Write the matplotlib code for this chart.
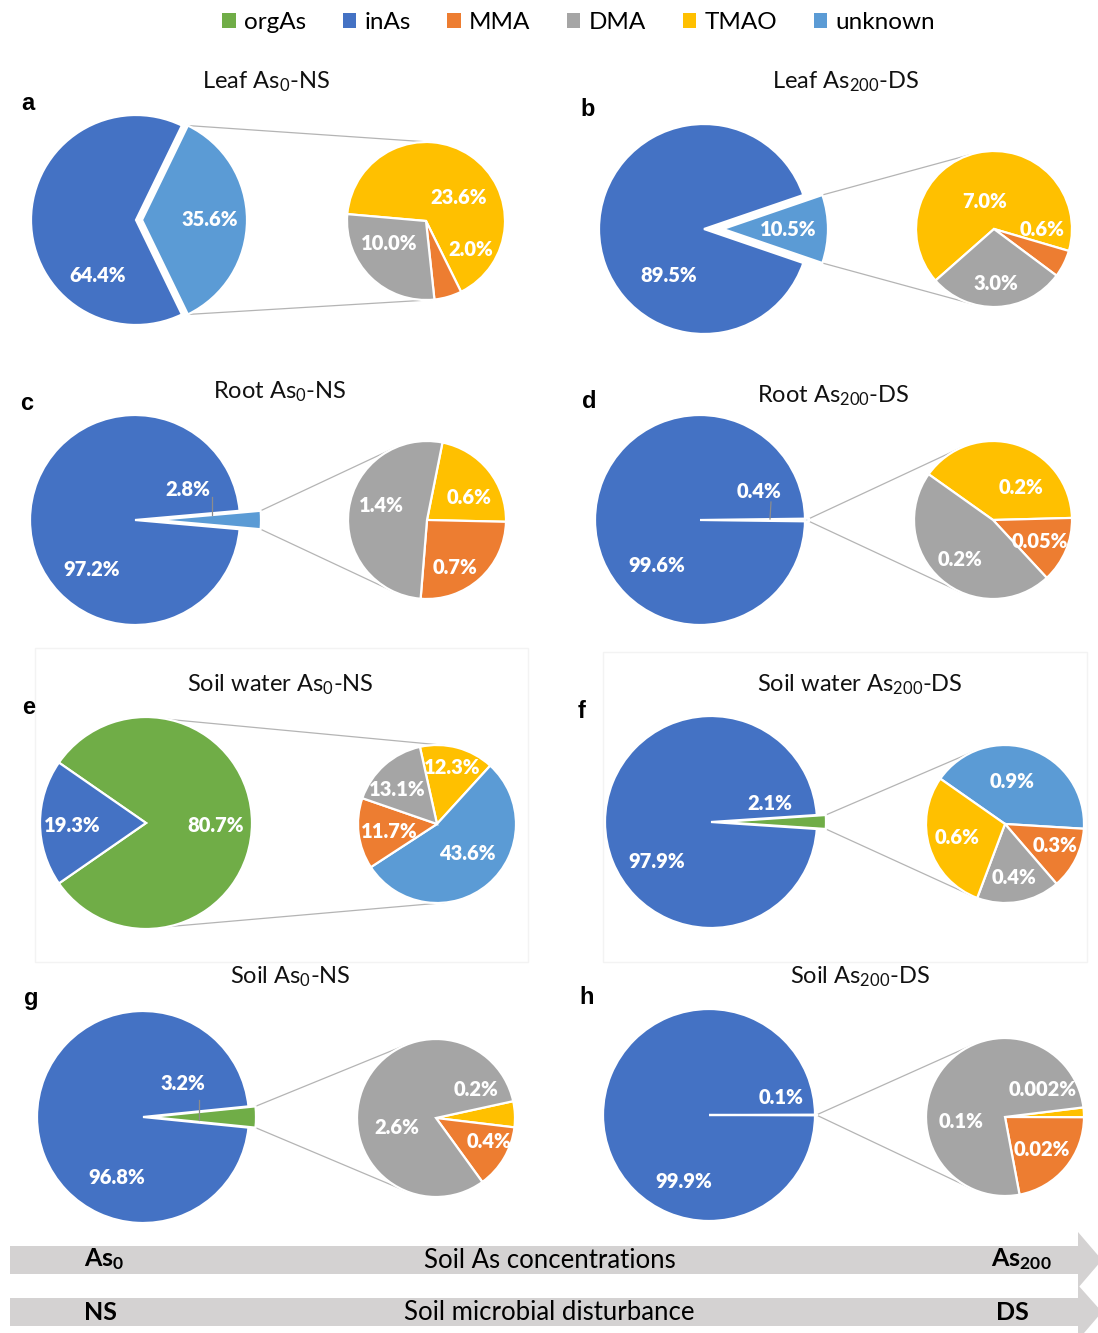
import math
import matplotlib
matplotlib.use('Agg')
import matplotlib.pyplot as plt
from matplotlib.patches import Patch, Polygon, Rectangle

plt.rcParams['font.family'] = ['Lato', 'DejaVu Sans']
plt.rcParams['mathtext.fontset'] = 'custom'
plt.rcParams['mathtext.rm'] = 'Lato'
plt.rcParams['mathtext.it'] = 'Lato:italic'
plt.rcParams['mathtext.bf'] = 'Lato:bold'

W, H = 1098, 1333

# ---------------- data ----------------
species = ['orgAs', 'inAs', 'MMA', 'DMA', 'TMAO', 'unknown']
species_colors = ['#70AD47', '#4472C4', '#ED7D31', '#A5A5A5', '#FFC000', '#5B9BD5']
col = dict(zip(species, species_colors))

panel_ids = ['a', 'b', 'c', 'd', 'e', 'f', 'g', 'h']
titles = ['Leaf As$\\mathregular{_0}$-NS', 'Leaf As$\\mathregular{_{200}}$-DS',
          'Root As$\\mathregular{_0}$-NS', 'Root As$\\mathregular{_{200}}$-DS',
          'Soil water As$\\mathregular{_0}$-NS', 'Soil water As$\\mathregular{_{200}}$-DS',
          'Soil As$\\mathregular{_0}$-NS', 'Soil As$\\mathregular{_{200}}$-DS']

# main pie: (kept species, split-out species)
main_species = [('inAs', 'unknown'), ('inAs', 'unknown'), ('inAs', 'unknown'), ('inAs', 'unknown'),
                ('inAs', 'orgAs'), ('inAs', 'orgAs'), ('inAs', 'orgAs'), ('inAs', 'orgAs')]
main_values = [(64.4, 35.6), (89.5, 10.5), (97.2, 2.8), (99.6, 0.4),
               (19.3, 80.7), (97.9, 2.1), (96.8, 3.2), (99.9, 0.1)]
main_labels = [('64.4%', '35.6%'), ('89.5%', '10.5%'), ('97.2%', '2.8%'), ('99.6%', '0.4%'),
               ('19.3%', '80.7%'), ('97.9%', '2.1%'), ('96.8%', '3.2%'), ('99.9%', '0.1%')]

# secondary pie (clockwise order)
sec_species = [['TMAO', 'MMA', 'DMA'], ['TMAO', 'MMA', 'DMA'], ['TMAO', 'MMA', 'DMA'],
               ['TMAO', 'MMA', 'DMA'], ['TMAO', 'unknown', 'MMA', 'DMA'],
               ['unknown', 'MMA', 'DMA', 'TMAO'], ['TMAO', 'MMA', 'DMA'], ['TMAO', 'MMA', 'DMA']]
sec_values = [[23.6, 2.0, 10.0], [7.0, 0.6, 3.0], [0.6, 0.7, 1.4], [0.159, 0.054, 0.187],
              [12.3, 43.6, 11.7, 13.1], [0.866, 0.267, 0.358, 0.609],
              [0.17, 0.42, 2.61], [0.002, 0.022, 0.076]]
sec_labels = [['23.6%', '2.0%', '10.0%'], ['7.0%', '0.6%', '3.0%'], ['0.6%', '0.7%', '1.4%'],
              ['0.2%', '0.05%', '0.2%'], ['12.3%', '43.6%', '11.7%', '13.1%'],
              ['0.9%', '0.3%', '0.4%', '0.6%'], ['0.2%', '0.4%', '2.6%'],
              ['0.002%', '0.02%', '0.1%']]

# ---------------- layout (image pixel coords, y down) ----------------
main_geom = [(136, 220, 105, 6), (704, 229, 105, 19), (135, 520, 105, 21), (700, 520, 105, 4),
             (146, 823, 106, 0), (711, 822, 106, 9), (143, 1117, 106, 7), (709, 1115, 106, 2)]
sec_geom = [(426, 221, 79), (994, 229, 78), (427, 520, 79), (993, 520, 79),
            (437, 824, 79), (1005, 824, 79), (436, 1118, 79), (1005, 1117, 79)]
sec_start = [175, 221.4, 78.7, 144.6, 102.5, 145, 12.3, 7]
main_label_pos = [[(98, 275), (210, 220)], [(669, 276), (788, 229)], [(92, 569), (188, 489)],
                  [(657, 566), (759, 492)], [(72, 825), (216, 825)], [(657, 861), (770, 803)],
                  [(117, 1178), (183, 1083)], [(684, 1181), (781, 1097)]]
sec_label_pos = [[(459, 197), (471, 249), (389, 244)],
                 [(985, 201), (1042, 229), (996, 284)],
                 [(469, 498), (455, 568), (381, 506)],
                 [(1021, 487), (1040, 541), (960, 560)],
                 [(452, 767), (467, 853), (389, 832), (397, 790)],
                 [(1012, 782), (1055, 846), (1014, 878), (957, 837)],
                 [(476, 1090), (489, 1141), (397, 1128)],
                 [(1043, 1089), (1042, 1149), (961, 1121)]]
title_pos = [(266, 82), (845, 82), (280, 392), (833, 396), (280, 685), (860, 685), (290, 977), (860, 977)]
letter_pos = [(28, 104), (588, 110), (27, 403), (589, 401), (29, 707), (582, 712), (31, 999), (587, 998)]
leaders = {2: ((212, 497), (212, 515)), 3: ((771, 502), (770, 519)), 6: ((199, 1100), (199, 1120))}


def Y(y):
    return H - y


def tangent_point(px, py, cx, cy, r, upper):
    dx, dy = px - cx, py - cy
    d = math.hypot(dx, dy)
    base = math.atan2(dy, dx)
    a = math.acos(min(1.0, r / d))
    ang = base - a if upper else base + a
    return cx + r * math.cos(ang), cy + r * math.sin(ang)


fig = plt.figure(figsize=(W / 100, H / 100), dpi=100)
ax = fig.add_axes([0, 0, 1, 1])
ax.set_axis_off()

LBL = dict(color='white', fontsize=14.5, fontweight='heavy', ha='center', va='center', zorder=5)

for i in range(8):
    cx, cy, r, ex = main_geom[i]
    keep_sp, other_sp = main_species[i]
    keep_v, other_v = main_values[i]
    theta = other_v / (keep_v + other_v) * 360.0
    ax.pie([other_v, keep_v], colors=[col[other_sp], col[keep_sp]],
           startangle=theta / 2, counterclock=False, center=(cx, Y(cy)), radius=r,
           explode=[ex, 0], wedgeprops=dict(edgecolor='white', linewidth=1.6))
    # secondary pie
    sx, sy, sr = sec_geom[i]
    ax.pie(sec_values[i], colors=[col[s] for s in sec_species[i]],
           startangle=sec_start[i], counterclock=False, center=(sx, Y(sy)), radius=sr,
           wedgeprops=dict(edgecolor='white', linewidth=1.6))
    # connector lines (from slice corners, tangent to the secondary pie)
    h = min(theta / 2, 78.0)
    px = cx + ex + r * math.cos(math.radians(h))
    py = r * math.sin(math.radians(h))
    for sign, upper in ((1, True), (-1, False)):
        p0 = (px, Y(cy) + sign * py)
        tx, ty = tangent_point(p0[0], p0[1], sx, Y(sy), sr, upper)
        ax.plot([p0[0], tx], [p0[1], ty], color='#b4b4b4', lw=0.9, zorder=0.5)
    # labels
    k_pos, o_pos = main_label_pos[i]
    ax.text(k_pos[0], Y(k_pos[1]), main_labels[i][0], **LBL)
    ax.text(o_pos[0], Y(o_pos[1]), main_labels[i][1], **LBL)
    for (lx, ly), txt in zip(sec_label_pos[i], sec_labels[i]):
        ax.text(lx, Y(ly), txt, **LBL)
    if i in leaders:
        (x0, y0), (x1, y1) = leaders[i]
        ax.plot([x0, x1], [Y(y0), Y(y1)], color='#8c8c8c', lw=0.9, zorder=4)
    # title & letter
    tx, ty = title_pos[i]
    ax.text(tx, Y(ty), titles[i], fontsize=17, ha='center', va='center', color='#111111')
    lx, ly = letter_pos[i]
    ax.text(lx, Y(ly), panel_ids[i], fontsize=17, fontweight='bold', ha='center', va='center',
            family=['Liberation Sans', 'DejaVu Sans'])

# faint frames around e and f
ax.add_patch(Rectangle((35, Y(962)), 493, 314, fill=False, edgecolor='#f3f3f3', lw=1, zorder=0))
ax.add_patch(Rectangle((603, Y(962)), 484, 310, fill=False, edgecolor='#f3f3f3', lw=1, zorder=0))

# bottom arrows
arrow_color = '#d4d2d2'
for (top, bot, htop, hbot) in [(1246, 1274, 1232, 1288), (1298, 1326, 1285, 1340)]:
    mid = (top + bot) / 2
    pts = [(10, Y(top)), (1078, Y(top)), (1078, Y(htop)), (1102, Y(mid)),
           (1078, Y(hbot)), (1078, Y(bot)), (10, Y(bot))]
    ax.add_patch(Polygon(pts, closed=True, facecolor=arrow_color, edgecolor='none', zorder=1))

ax.text(104, Y(1259), 'As$\\mathregular{_0}$', fontsize=18, fontweight='bold', ha='center', va='center', zorder=3)
ax.text(550, Y(1260), 'Soil As concentrations', fontsize=18.5, ha='center', va='center', zorder=3)
ax.text(1021, Y(1259), 'As$\\mathregular{_{200}}$', fontsize=18, fontweight='bold', ha='center', va='center', zorder=3)
ax.text(100, Y(1312), 'NS', fontsize=18, fontweight='bold', ha='center', va='center', zorder=3)
ax.text(549, Y(1313), 'Soil microbial disturbance', fontsize=18.5, ha='center', va='center', zorder=3)
ax.text(1012, Y(1312), 'DS', fontsize=18, fontweight='bold', ha='center', va='center', zorder=3)

ax.set_xlim(0, W)
ax.set_ylim(0, H)
ax.set_aspect('equal')

handles = [Patch(facecolor=c, edgecolor='none') for c in species_colors]
fig.legend(handles, species, loc='upper center', bbox_to_anchor=(0.527, 1.0075), ncol=6,
           frameon=False, fontsize=17.5, handlelength=0.55, handleheight=0.55,
           handletextpad=0.35, columnspacing=1.5)

fig.savefig('out.png', dpi=100)
